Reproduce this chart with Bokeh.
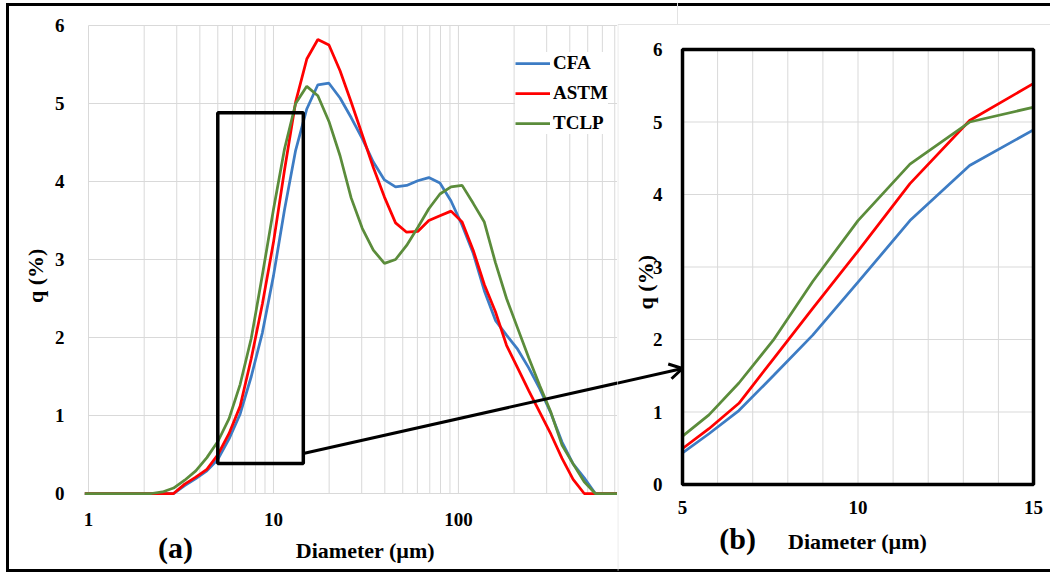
import math
from bokeh.plotting import figure
from bokeh.models import (FixedTicker, Label, ColumnDataSource, Range1d, BasicTickFormatter)
from bokeh.layouts import row
from bokeh.embed import file_html
from bokeh.resources import INLINE

# ---------------- data ----------------
diameter = [0.955, 1.096, 1.259, 1.445, 1.660, 1.905, 2.188, 2.512, 2.884, 3.311,
            3.802, 4.365, 5.012, 5.754, 6.607, 7.586, 8.710, 10.00, 11.48, 13.18,
            15.14, 17.38, 19.95, 22.91, 26.30, 30.20, 34.67, 39.81, 45.71, 52.48,
            60.26, 69.18, 79.43, 91.20, 104.7, 120.2, 138.0, 158.5, 182.0, 208.9,
            239.9, 275.4, 316.2, 363.1, 416.9, 478.6, 549.5, 631.0, 724.4, 831.8]

cfa = [0, 0, 0, 0, 0, 0, 0, 0, 0, 0.10,
       0.19, 0.29, 0.44, 0.70, 1.02, 1.50, 2.06, 2.79, 3.64, 4.40,
       4.93, 5.24, 5.26, 5.07, 4.82, 4.55, 4.25, 4.02, 3.93, 3.95,
       4.01, 4.05, 3.98, 3.75, 3.44, 3.08, 2.60, 2.22, 2.03, 1.85,
       1.61, 1.34, 1.03, 0.66, 0.38, 0.20, 0, 0, 0, 0]

astm = [0, 0, 0, 0, 0, 0, 0, 0, 0, 0.12,
        0.21, 0.31, 0.50, 0.77, 1.12, 1.73, 2.43, 3.22, 4.15, 5.02,
        5.57, 5.82, 5.75, 5.42, 5.02, 4.60, 4.18, 3.80, 3.47, 3.35,
        3.36, 3.50, 3.56, 3.62, 3.48, 3.12, 2.68, 2.33, 1.90, 1.61,
        1.32, 1.04, 0.76, 0.45, 0.18, 0, 0, 0, 0, 0]

tclp = [0, 0, 0, 0, 0, 0, 0, 0.02, 0.07, 0.17,
        0.29, 0.46, 0.67, 0.96, 1.40, 1.99, 2.80, 3.64, 4.42, 5.00,
        5.22, 5.10, 4.77, 4.33, 3.79, 3.40, 3.12, 2.95, 3.00, 3.18,
        3.41, 3.65, 3.84, 3.93, 3.95, 3.72, 3.48, 2.96, 2.50, 2.12,
        1.74, 1.38, 1.04, 0.62, 0.38, 0.15, 0, 0, 0, 0]

series_names = ["CFA", "ASTM", "TCLP"]
series_colors = ["#3d7cc4", "#ff0000", "#5b8c3b"]

y_ticks = [0, 1, 2, 3, 4, 5, 6]
y_labels = ["0", "1", "2", "3", "4", "5", "6"]
x_ticks_a = [1, 10, 100]
x_labels_a = ["1", "10", "100"]
x_minor_a = [2, 3, 4, 5, 6, 7, 8, 9, 20, 30, 40, 50, 60, 70, 80, 90,
             200, 300, 400, 500, 600, 700]
x_end_a = 724.4
x_ticks_b = [5, 10, 15]
x_labels_b = ["5", "10", "15"]
x_minor_b = [6, 7, 8, 9, 11, 12, 13, 14]

zoom_left, zoom_right, zoom_bottom, zoom_top = 5, 14.5, 0.385, 4.88

FONT = "Liberation Serif"
GRID = "#d9d9d9"
INK = "#000000"

src = ColumnDataSource(dict(d=diameter, CFA=cfa, ASTM=astm, TCLP=tclp))
keep = [i for i, d in enumerate(diameter) if x_ticks_b[0] <= d <= 15.2]
src_b = ColumnDataSource(dict(d=[diameter[i] for i in keep],
                              CFA=[cfa[i] for i in keep],
                              ASTM=[astm[i] for i in keep],
                              TCLP=[tclp[i] for i in keep]))


def style_axis(ax, standoff):
    ax.axis_line_color = None
    ax.major_tick_line_color = None
    ax.minor_tick_line_color = None
    ax.major_label_text_font = FONT
    ax.major_label_text_font_style = "bold"
    ax.major_label_text_font_size = "19px"
    ax.major_label_text_color = INK
    ax.major_label_standoff = standoff


def bold_label(plot, x, y, text, size, angle=0.0):
    plot.add_layout(Label(x=x, y=y, text=text, text_font=FONT, text_font_style="bold",
                          text_font_size=size, text_color=INK, text_align="center",
                          text_baseline="middle", angle=angle))


def base_figure(width, x_range, y_range, x_type="linear"):
    p = figure(width=width, height=573, x_axis_type=x_type,
               x_range=x_range, y_range=y_range,
               output_backend="svg", toolbar_location=None,
               min_border_left=0, min_border_right=0, min_border_top=0, min_border_bottom=0)
    p.border_fill_color = None
    p.background_fill_color = None
    p.outline_line_color = None
    p.xgrid.visible = False
    p.ygrid.visible = False
    return p


# ---------------- (a) full distribution (frame = whole panel) ----------------
p1 = base_figure(617, Range1d(0.3344, x_end_a), Range1d(-1.0256, 6.3205), x_type="log")

p1.xaxis.ticker = FixedTicker(ticks=x_ticks_a)
p1.xaxis.formatter = BasicTickFormatter()
p1.xaxis.major_label_overrides = dict(zip(x_ticks_a, x_labels_a))
p1.xaxis.fixed_location = y_ticks[0]
p1.yaxis.ticker = FixedTicker(ticks=y_ticks)
p1.yaxis.major_label_overrides = dict(zip(y_ticks, y_labels))
p1.yaxis.fixed_location = x_ticks_a[0]
style_axis(p1.xaxis[0], 13)
style_axis(p1.yaxis[0], 18)

vlines_a = sorted(x_ticks_a + x_minor_a)
p1.segment(x0=vlines_a, x1=vlines_a, y0=[y_ticks[0]] * len(vlines_a),
           y1=[y_ticks[-1]] * len(vlines_a), line_color=GRID, line_width=1)
p1.segment(x0=[x_ticks_a[0]] * len(y_ticks), x1=[x_end_a] * len(y_ticks),
           y0=y_ticks, y1=y_ticks, line_color=GRID, line_width=1)

for name, color in zip(series_names, series_colors):
    p1.line("d", name, source=src, line_color=color, line_width=2.75, legend_label=name)

p1.quad(left=zoom_left, right=zoom_right, bottom=zoom_bottom, top=zoom_top,
        fill_color=None, line_color="black", line_width=3.5)
# arrow tail (continues in panel b)
p1.segment(x0=zoom_right, y0=0.513, x1=1625, y1=1.603, line_color="black", line_width=3)

lg = p1.legend[0]
lg.location = (515, 439)
lg.padding = 0
lg.margin = 0
lg.spacing = 8
lg.glyph_width = 35
lg.glyph_height = 20
lg.label_height = 20
lg.label_standoff = 3
lg.label_text_font = FONT
lg.label_text_font_style = "bold"
lg.label_text_font_size = "19px"
lg.label_text_color = INK
lg.border_line_color = None
lg.background_fill_color = "white"
lg.background_fill_alpha = 1.0

bold_label(p1, 2.955, -0.69, "(a)", "30px")
bold_label(p1, 31.4, -0.73, "Diameter (\u00b5m)", "22px")
bold_label(p1, 0.517, 2.79, "q (%)", "22px", angle=math.pi / 2)

# ---------------- (b) zoom 5-15 um (frame = whole panel) ----------------
p2 = base_figure(433, Range1d(3.148, 15.484), Range1d(-1.2276, 6.676))

p2.xaxis.ticker = FixedTicker(ticks=x_ticks_b)
p2.xaxis.major_label_overrides = dict(zip(x_ticks_b, x_labels_b))
p2.xaxis.fixed_location = y_ticks[0]
p2.yaxis.ticker = FixedTicker(ticks=y_ticks)
p2.yaxis.major_label_overrides = dict(zip(y_ticks, y_labels))
p2.yaxis.fixed_location = x_ticks_b[0]
style_axis(p2.xaxis[0], 10)
style_axis(p2.yaxis[0], 14)

# light border of the inset picture
p2.segment(x0=[3.16, 3.16, 4.858], x1=[3.16, 15.484, 4.858], y0=[6.345, 6.345, 6.345],
           y1=[-1.19, 6.345, 6.64], line_color="#e3e3e3", line_width=1)

vlines_b = sorted(x_ticks_b + x_minor_b)
p2.segment(x0=vlines_b, x1=vlines_b, y0=[y_ticks[0]] * len(vlines_b),
           y1=[y_ticks[-1]] * len(vlines_b), line_color=GRID, line_width=1)
p2.segment(x0=[x_ticks_b[0]] * len(y_ticks), x1=[x_ticks_b[-1]] * len(y_ticks),
           y0=y_ticks, y1=y_ticks, line_color=GRID, line_width=1)

for name, color in zip(series_names, series_colors):
    p2.line("d", name, source=src_b, line_color=color, line_width=2.75)

# keep the curves inside the zoom window
p2.quad(left=x_ticks_b[-1], right=15.4, bottom=y_ticks[0] - 0.05, top=y_ticks[-1] + 0.05,
        fill_color="white", line_color=None)
p2.quad(left=x_ticks_b[0], right=x_ticks_b[-1], bottom=y_ticks[0], top=y_ticks[-1],
        fill_color=None, line_color="black", line_width=3.5)

# arrow body and open head
p2.segment(x0=3.0, y0=1.383, x1=5.0, y1=1.60, line_color="black", line_width=3)
p2.line(x=[4.593, 5.0, 4.687], y=[1.662, 1.60, 1.459], line_color="black", line_width=3)

bold_label(p2, 6.57, -0.745, "(b)", "30px")
bold_label(p2, 9.99, -0.79, "Diameter (\u00b5m)", "22px")
bold_label(p2, 3.95, 2.79, "q (%)", "22px", angle=math.pi / 2)

frame_css = {
    "background-color": "white",
    "box-shadow": ("inset 6px 0 0 0 white, inset 0 3px 0 0 white, inset 0 -1px 0 0 white, "
                   "inset 9px 0 0 0 black, inset 0 6px 0 0 black, inset 0 -4px 0 0 black"),
}
layout = row(p1, p2, styles=frame_css)

open("out.html", "w").write(file_html(layout, INLINE))
